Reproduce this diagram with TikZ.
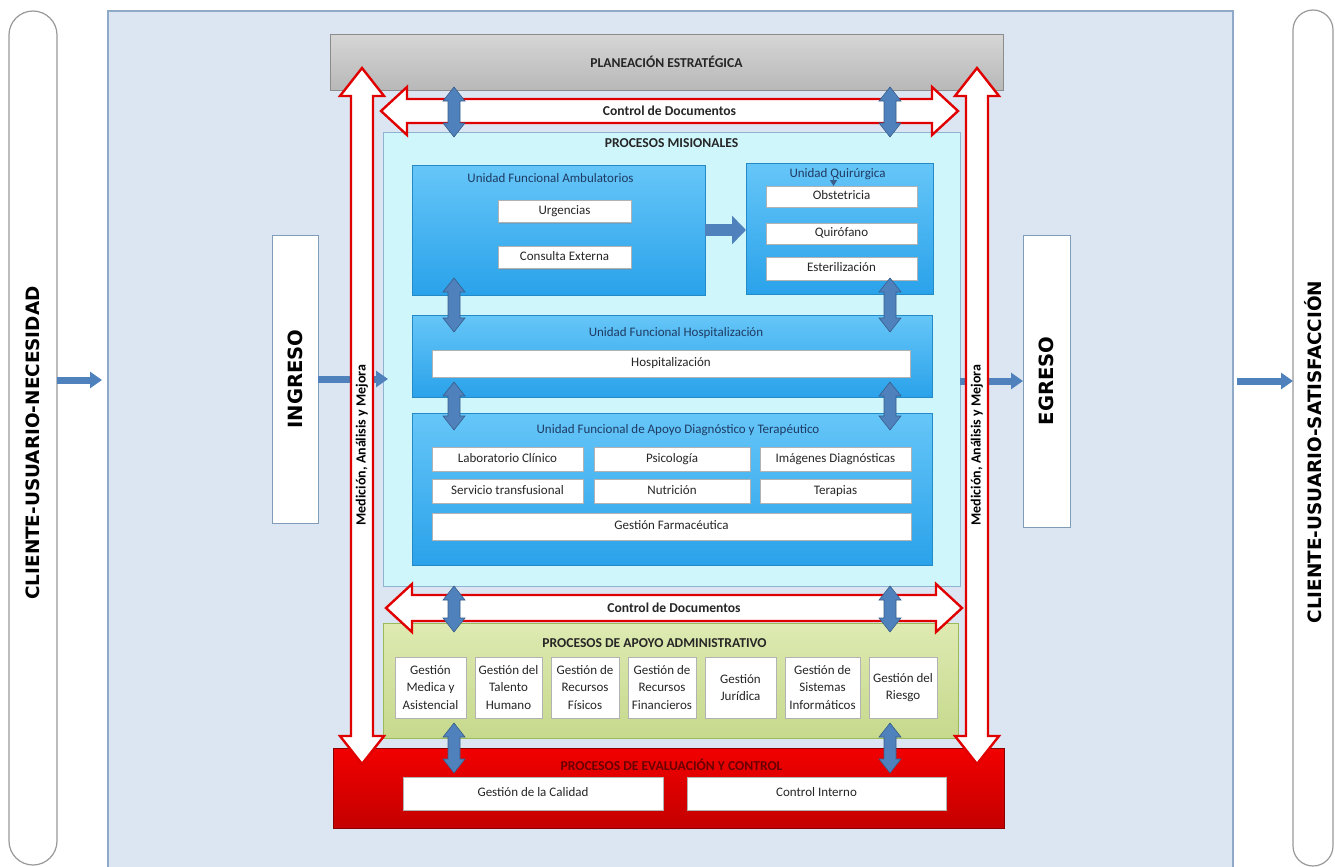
\documentclass[tikz,border=0pt]{standalone}
\usepackage{fontspec}
\usepackage{graphicx}
\setmainfont{Carlito}
\newfontfamily\bigfont{DejaVu Sans}
\usetikzlibrary{positioning, arrows.meta, calc, shadows}
\definecolor{page}{HTML}{DCE6F2}
\definecolor{pageborder}{HTML}{8EAAC8}
\definecolor{mision}{HTML}{CFF6FB}
\definecolor{misionborder}{HTML}{8DB3D0}
\definecolor{unittop}{HTML}{66C6F8}
\definecolor{unitbot}{HTML}{2AA2EA}
\definecolor{unittext}{HTML}{1F3B63}
\definecolor{apoyotop}{HTML}{DEEAB2}
\definecolor{apoyobot}{HTML}{C6D98C}
\definecolor{apoyoborder}{HTML}{9BBB59}
\definecolor{evaltop}{HTML}{F20000}
\definecolor{evalbot}{HTML}{C40000}
\definecolor{evaltext}{HTML}{6A0000}
\definecolor{plantop}{HTML}{D6D6D6}
\definecolor{planbot}{HTML}{B8B8B8}
\definecolor{flow}{HTML}{4F81BD}
\definecolor{flowborder}{HTML}{385D8A}
\definecolor{medred}{HTML}{E00000}
\definecolor{gateborder}{HTML}{7F9DB9}
\definecolor{boxtext}{HTML}{262626}

% block arrows with two heads: style, first end, second end, shaft half, head half, head length
\newcommand{\vdarrow}[6]{%
  \path[#1] let \p1=(#2), \p2=(#3) in
    (\x1,\y1) -- (\x1+#5,\y1-#6) -- (\x1+#4,\y1-#6) -- (\x1+#4,\y2+#6)
    -- (\x1+#5,\y2+#6) -- (\x1,\y2) -- (\x1-#5,\y2+#6) -- (\x1-#4,\y2+#6)
    -- (\x1-#4,\y1-#6) -- (\x1-#5,\y1-#6) -- cycle;}
\newcommand{\hdarrow}[6]{%
  \path[#1] let \p1=(#2), \p2=(#3) in
    (\x1,\y1) -- (\x1+#6,\y1+#5) -- (\x1+#6,\y1+#4) -- (\x2-#6,\y1+#4)
    -- (\x2-#6,\y1+#5) -- (\x2,\y1) -- (\x2-#6,\y1-#5) -- (\x2-#6,\y1-#4)
    -- (\x1+#6,\y1-#4) -- (\x1+#6,\y1-#5) -- cycle;}

\begin{document}
\begin{tikzpicture}[
    x=0.5pt, y=-0.5pt,
    every node/.style={inner sep=0pt, outer sep=0pt},
    dims/.style 2 args={minimum width=#1*0.5pt, minimum height=#2*0.5pt},
    boxshadow/.style={drop shadow={shadow xshift=0.7pt, shadow yshift=-0.7pt, opacity=0.3}},
    item/.style={fill=white, draw=black!30, line width=0.3pt, boxshadow, align=center,
                 text=boxtext, font=\fontsize{6.5}{8.6}\selectfont},
    cell/.style={item, text height=4.6pt, text depth=1.4pt},
    unit/.style={top color=unittop, bottom color=unitbot, draw=unitbot!85!black,
                 line width=0.3pt, boxshadow},
    unittitle/.style={text=unittext, font=\fontsize{6.5}{8}\selectfont},
    headtext/.style={text=black!85, font=\bfseries\fontsize{6.8}{8}\selectfont},
    pill/.style={fill=white, draw=black!40, line width=0.6pt},
    bigtext/.style={rotate=90, font=\bigfont\bfseries\fontsize{9.2}{11}\selectfont},
    gate/.style={fill=white, draw=gateborder, line width=0.5pt, boxshadow,
                 font=\bigfont\bfseries\fontsize{9.8}{12}\selectfont},
    medtext/.style={rotate=90, font=\bfseries\fontsize{7}{8}\selectfont},
    flowarr/.style={fill=flow, draw=flowborder, line width=0.3pt},
    cyclearr/.style={fill=white, draw=medred, line width=1.2pt},
    flowthin/.style={draw=flow, line width=3.5pt, -{Triangle[length=6pt, width=8pt]}},
    flowbig/.style={draw=flow, line width=6pt, -{Triangle[length=7pt, width=14pt]}},
    flowsmall/.style={draw=flowborder, line width=0.6pt, -{Triangle[length=3pt, width=3.5pt]}},
]
\useasboundingbox (0,0) rectangle (1335,867);

% background and client columns
\node[dims={1125}{880}, fill=page, draw=pageborder, line width=0.6pt] (base) at (670.5,451) {};
\node[pill, dims={48}{854}, rounded corners=12pt] (cliente1) at (33,438) {};
\node[pill, dims={40}{856}, rounded corners=10pt] (cliente2) at (1313,438) {};
\node[bigtext] (necesidad) at (33,443) {CLIENTE-USUARIO-NECESIDAD};
\node[bigtext] (satisfaccion) at (1313,452) {CLIENTE-USUARIO-SATISFACCIÓN};

% strategic planning
\node[dims={673}{56}, top color=plantop, bottom color=planbot, draw=black!45,
      line width=0.4pt, boxshadow, headtext] (plan) at (666.5,62) {PLANEACIÓN ESTRATÉGICA};

% mission processes
\node[dims={577}{454}, fill=mision, draw=misionborder, line width=0.5pt] (mis) at (671.5,359) {};
\node[headtext] (misTitle) at ($(mis.north)+(0,11)$) {PROCESOS MISIONALES};

\node[unit, dims={293}{130}] (amb) at (558.5,230) {};
\node[unittitle] (ambTitle) at ($(amb.north)+(-8,13)$) {Unidad Funcional Ambulatorios};
\node[cell, dims={133}{22}] (urg) at (564.5,211.5) {Urgencias};
\node[cell, dims={133}{22}, below=12pt of urg] (cext) {Consulta Externa};

\node[unit, dims={187}{131}] (quir) at (839.5,228.5) {};
\node[unittitle] (quirTitle) at ($(quir.north)+(-2,11)$) {Unidad Quirúrgica};
\node[cell, dims={151}{21}] (obst) at (841.5,196.5) {Obstetricia};
\node[cell, dims={151}{21}, below=8pt of obst] (quirof) {Quirófano};
\node[cell, dims={151}{23}, below=6.5pt of quirof] (ester) {Esterilización};

\node[unit, dims={520}{82}] (hospu) at (672,356) {};
\node[unittitle] (hospuTitle) at ($(hospu.north)+(4,18)$) {Unidad Funcional Hospitalización};
\node[cell, dims={478}{27}] (hosp) at (671,363.5) {Hospitalización};

\node[unit, dims={520}{152}] (apoyo) at (672,489) {};
\node[unittitle] (apoyoTitle) at ($(apoyo.north)+(6,17)$) {Unidad Funcional de Apoyo Diagnóstico y Terapéutico};
\node[cell, dims={151}{24}] (lab) at (507.5,459) {Laboratorio Clínico};
\node[cell, dims={156}{24}, right=5.5pt of lab] (psi) {Psicología};
\node[cell, dims={151}{24}, right=5pt of psi] (img) {Imágenes Diagnósticas};
\node[cell, dims={151}{24}, below=4pt of lab] (transf) {Servicio transfusional};
\node[cell, dims={156}{24}, below=4pt of psi] (nutr) {Nutrición};
\node[cell, dims={151}{24}, below=4pt of img] (ter) {Terapias};
\node[cell, dims={479}{27}] (farm) at (671.5,526.5) {Gestión Farmacéutica};

% administrative support
\node[dims={575}{115}, top color=apoyotop, bottom color=apoyobot, draw=apoyoborder,
      line width=0.4pt, boxshadow] (admin) at (670.5,680.5) {};
\node[headtext] (adminTitle) at ($(admin.north)+(-16,20)$) {PROCESOS DE APOYO ADMINISTRATIVO};
\node[item, dims={71}{61}] (gMed) at (430.5,687.5) {Gestión\\Medica y\\Asistencial};
\node[item, dims={67}{61}, right=4.5pt of gMed] (gTal) {Gestión del\\Talento\\Humano};
\node[item, dims={68}{61}, right=4.5pt of gTal] (gFis) {Gestión de\\Recursos\\Físicos};
\node[item, dims={68}{61}, right=4.5pt of gFis] (gFin) {Gestión de\\Recursos\\Financieros};
\node[item, dims={71}{61}, right=4.5pt of gFin] (gJur) {Gestión\\Jurídica};
\node[item, dims={75}{61}, right=4.5pt of gJur] (gSis) {Gestión de\\Sistemas\\Informáticos};
\node[item, dims={68}{61}, right=4.5pt of gSis] (gRie) {Gestión del\\Riesgo};

% evaluation and control
\node[dims={671}{80}, top color=evaltop, bottom color=evalbot, draw=evalbot!70!black,
      line width=0.5pt, boxshadow] (evalu) at (668.5,788) {};
\node[headtext, text=evaltext] (evalTitle) at ($(evalu.north)+(3,17)$) {PROCESOS DE EVALUACIÓN Y CONTROL};
\node[cell, dims={260}{33}] (calidad) at (533,793.5) {Gestión de la Calidad};
\node[cell, dims={259}{33}] (cinterno) at (816.5,793.5) {Control Interno};

% entry and exit
\node[gate, dims={46}{288}] (ingreso) at (295,379) {\rotatebox{90}{INGRESO}};
\node[gate, dims={47}{292}] (egreso) at (1046.5,381) {\rotatebox{90}{EGRESO}};

% patient flow
\coordinate (inTip) at (102,380);
\draw[flowthin] (cliente1.east |- inTip) -- (inTip);
\draw[flowthin] (ingreso.east) -- ($(mis.west |- ingreso.east)+(5,0)$);
\draw[flowthin] (mis.east |- egreso.west) -- (egreso.west);
\draw[flowthin] ($(base.east |- egreso.west)+(4,0)$) -- (cliente2.west |- egreso.west);
\draw[flowbig] (amb.east) -- (amb.east -| quir.west);
\coordinate (quirMark) at ($(quirTitle)+(-4,2)$);
\draw[flowsmall] (quirMark) -- (quirMark |- obst.north);

% measurement loop, both sides
\coordinate (medL) at (362,0);
\coordinate (medR) at (977,0);
\foreach \side in {medL, medR} {
  \vdarrow{cyclearr}{$(\side |- plan.north)+(0,34)$}{$(\side |- evalu.north)+(0,16)$}{5.5pt}{11pt}{14pt}
  \node[medtext] (txt\side) at ($(\side)+(0,445)$) {Medición, Análisis y Mejora};
}

% document control
\hdarrow{cyclearr}{$(mis.north west)+(-2,-21)$}{$(mis.north east)+(-2,-21)$}{6pt}{12pt}{13pt}
\node[headtext] (docTop) at ($(mis.north)+(-2,-21)$) {Control de Documentos};
\hdarrow{cyclearr}{$(mis.south west)+(3,22)$}{$(mis.south east)+(2,22)$}{6.5pt}{12pt}{13pt}
\node[headtext] (docBot) at ($(mis.south)+(2.5,22)$) {Control de Documentos};

% links between levels
\coordinate (colL) at (454,0);
\coordinate (colR) at (890,0);
\foreach \col in {colL, colR} {
  \vdarrow{flowarr}{$(\col |- plan.south)+(0,-3)$}{$(\col |- mis.north)+(0,5)$}{3pt}{5.5pt}{7pt}
  \vdarrow{flowarr}{$(\col |- amb.south)+(0,-17)$}{$(\col |- hospu.north)+(0,17)$}{3pt}{5.5pt}{7pt}
  \vdarrow{flowarr}{$(\col |- hospu.south)+(0,-15)$}{$(\col |- apoyo.north)+(0,17)$}{3pt}{5.5pt}{7pt}
  \vdarrow{flowarr}{$(\col |- mis.south)+(0,0)$}{$(\col |- admin.north)+(0,9)$}{3pt}{5.5pt}{7pt}
  \vdarrow{flowarr}{$(\col |- admin.south)+(0,-15)$}{$(\col |- evalu.north)+(0,25)$}{3pt}{5.5pt}{7pt}
}

\end{tikzpicture}
\end{document}
